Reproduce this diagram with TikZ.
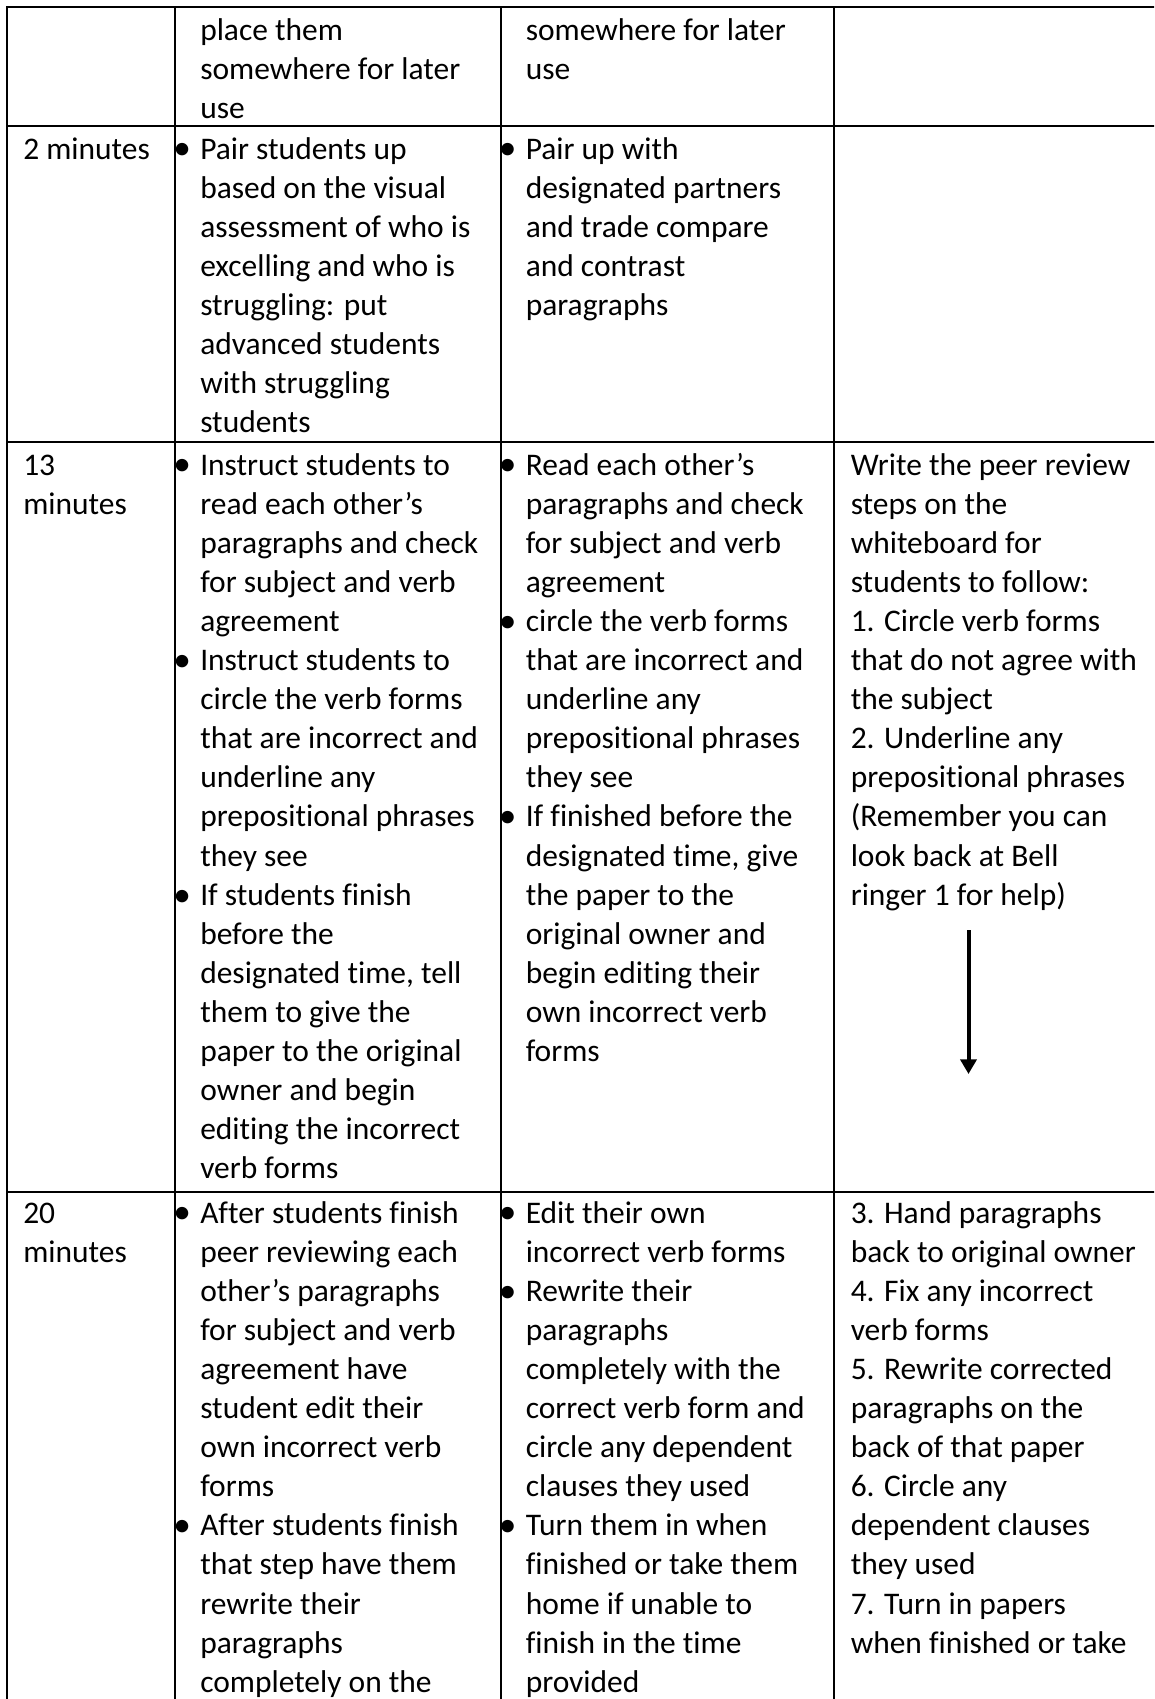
\documentclass[tikz,border=0pt]{standalone}
\usepackage{fontspec}
\setmainfont{Carlito}[Ligatures=NoCommon]
\usetikzlibrary{arrows.meta}
\newcommand\bul{\makebox[0pt][r]{\raisebox{-0.03em}{\scalebox{1.12}{\textbullet}}\hspace{7pt}}}

\begin{document}
\begin{tikzpicture}[x=0.75pt,y=-0.75pt]
\tikzstyle{txt}=[anchor=base west,inner sep=0pt,font=\fontsize{23.6pt}{29.3pt}\selectfont]
\tikzstyle{rule}=[line width=1.5pt]
\useasboundingbox (0,0) rectangle (1154,1699);
\clip (0,0) rectangle (1154,1699);
% table rules
\begin{scope}[style=rule]
    \draw (1160,7) -- (7,7) -- (7,1710);
    \foreach \y in {126,442,1192} \draw (7,\y) -- (1160,\y);
    \foreach \x in {175,501,834} \draw (\x,7) -- (\x,1710);
\end{scope}
% row 1
\foreach \ln [count=\i from 0] in {place them,somewhere for later,use}
    \node[txt] (ab-\i) at (200,40+39.1*\i) {\ln};
\foreach \ln [count=\i from 0] in {somewhere for later,use}
    \node[txt] (ac-\i) at (525.5,40+39.1*\i) {\ln};
% row 2
\node[txt] (ba-0) at (23,159) {2 minutes};
\foreach \ln [count=\i from 0] in {\bul Pair students up,based on the visual,assessment of who is,excelling and who is,struggling: put,advanced students,with struggling,students}
    \node[txt] (bb-\i) at (200,159+39.1*\i) {\ln};
\foreach \ln [count=\i from 0] in {\bul Pair up with,designated partners,and trade compare,and contrast,paragraphs}
    \node[txt] (bc-\i) at (525.5,159+39.1*\i) {\ln};
% row 3
\foreach \ln [count=\i from 0] in {13,minutes}
    \node[txt] (ca-\i) at (23,475+39.1*\i) {\ln};
\foreach \ln [count=\i from 0] in {\bul Instruct students to,read each other’s,paragraphs and check,for subject and verb,agreement,\bul Instruct students to,circle the verb forms,that are incorrect and,underline any,prepositional phrases,they see,\bul If students finish,before the,{designated time, tell},them to give the,paper to the original,owner and begin,editing the incorrect,verb forms}
    \node[txt] (cb-\i) at (200,475+39.1*\i) {\ln};
\foreach \ln [count=\i from 0] in {\bul Read each other’s,paragraphs and check,for subject and verb,agreement,\bul circle the verb forms,that are incorrect and,underline any,prepositional phrases,they see,\bul If finished before the,{designated time, give},the paper to the,original owner and,begin editing their,own incorrect verb,forms}
    \node[txt] (cc-\i) at (525.5,475+39.1*\i) {\ln};
\foreach \ln [count=\i from 0] in {Write the peer review,steps on the,whiteboard for,students to follow:,{1. Circle verb forms},that do not agree with,the subject,{2. Underline any},prepositional phrases,{(Remember you can},look back at Bell,{ringer 1 for help)}}
    \node[txt] (cd-\i) at (850.5,475+39.1*\i) {\ln};
\coordinate (arrtop) at (968.5,930);
\coordinate (arrtip) at (968.5,1074);
\draw[line width=3pt,-{Triangle[width=12pt,length=11pt]}] (arrtop) -- (arrtip);
% row 4
\foreach \ln [count=\i from 0] in {20,minutes}
    \node[txt] (da-\i) at (23,1223+39.1*\i) {\ln};
\foreach \ln [count=\i from 0] in {\bul After students finish,peer reviewing each,other’s paragraphs,for subject and verb,agreement have,student edit their,own incorrect verb,forms,\bul After students finish,that step have them,rewrite their,paragraphs,completely on the}
    \node[txt] (db-\i) at (200,1223+39.1*\i) {\ln};
\foreach \ln [count=\i from 0] in {\bul Edit their own,incorrect verb forms,\bul Rewrite their,paragraphs,completely with the,correct verb form and,circle any dependent,clauses they used,\bul Turn them in when,finished or take them,home if unable to,finish in the time,provided}
    \node[txt] (dc-\i) at (525.5,1223+39.1*\i) {\ln};
\foreach \ln [count=\i from 0] in {{3. Hand paragraphs},back to original owner,{4. Fix any incorrect},verb forms,{5. Rewrite corrected},paragraphs on the,back of that paper,{6. Circle any},dependent clauses,they used,{7. Turn in papers},when finished or take}
    \node[txt] (dd-\i) at (850.5,1223+39.1*\i) {\ln};
\end{tikzpicture}
\end{document}
